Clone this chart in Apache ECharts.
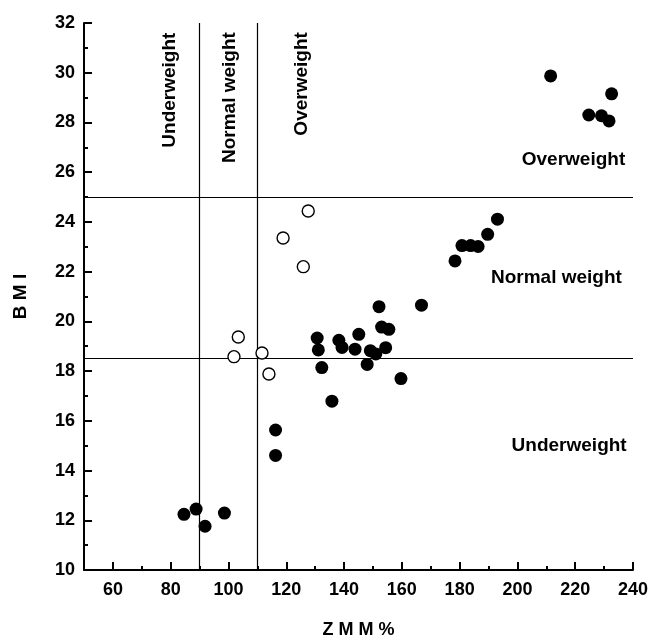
<!DOCTYPE html>
<html>
<head>
<meta charset="utf-8">
<script src="https://cdn.jsdelivr.net/npm/echarts@6/dist/echarts.min.js"></script>
<style>html,body{margin:0;padding:0;background:#fff;}#c{width:650px;height:639px;}</style>
</head>
<body>
<div id="c"></div>
<script>
// Filled circles: [ZMM %, BMI]
var filledPoints = [
  [84.6, 12.24], [88.8, 12.45], [91.9, 11.76], [98.6, 12.29],
  [116.3, 15.63], [116.3, 14.61],
  [130.7, 19.33], [131.1, 18.85], [132.3, 18.14], [135.8, 16.79],
  [138.2, 19.24], [139.3, 18.95], [143.8, 18.88], [145.1, 19.48],
  [148.0, 18.27], [149.1, 18.82], [151.0, 18.69], [152.1, 20.59],
  [153.0, 19.77], [155.5, 19.68], [154.4, 18.94], [159.7, 17.70],
  [166.8, 20.65],
  [178.4, 22.43], [180.8, 23.05], [183.8, 23.05], [186.4, 23.01],
  [189.7, 23.50], [193.1, 24.11],
  [211.5, 29.87], [224.7, 28.30], [229.1, 28.27], [231.7, 28.06], [232.6, 29.15]
];
// Open circles
var openPoints = [
  [101.9, 18.58], [103.4, 19.37], [111.6, 18.73], [114.0, 17.88],
  [118.9, 23.35], [125.9, 22.20], [127.6, 24.44]
];
// Threshold lines
var zmmCutoffs = [90, 110];
var bmiCutoffs = [18.5, 25];
// Tick labels
var xTickLabels = [60, 80, 100, 120, 140, 160, 180, 200, 220, 240];
var xMinorTicks = [70, 90, 110, 130, 150, 170, 190, 210, 230];
var yTickLabels = [10, 12, 14, 16, 18, 20, 22, 24, 26, 28, 30, 32];
// Region annotations: [x, y, text]
var zmmRegionLabels = [
  [79.6, 29.3, 'Underweight'],
  [100.3, 29.0, 'Normal weight'],
  [125.5, 29.55, 'Overweight']
];
var bmiRegionLabels = [
  [219.4, 26.5, 'Overweight'],
  [213.5, 21.77, 'Normal weight'],
  [217.9, 15.0, 'Underweight']
];

var FONT = '"Liberation Sans", Arial, sans-serif';
var chart = echarts.init(document.getElementById('c'), null, {renderer: 'canvas'});

var markLineData = [];
zmmCutoffs.forEach(function (v) { markLineData.push({xAxis: v}); });
bmiCutoffs.forEach(function (v) { markLineData.push({yAxis: v}); });

function labelData(arr) {
  return arr.map(function (d) { return {value: [d[0], d[1]], name: d[2]}; });
}

chart.setOption({
  animation: false,
  backgroundColor: '#ffffff',
  grid: {left: 84, right: 17, top: 23, bottom: 69, containLabel: false, outerBoundsMode: 'none'},
  xAxis: [{
    type: 'value', min: 50, max: 240, position: 'bottom',
    name: 'Z M M %', nameLocation: 'middle', nameGap: 51,
    nameTextStyle: {fontFamily: FONT, fontWeight: 'bold', fontSize: 18, color: '#000'},
    axisLine: {show: true, onZero: false, lineStyle: {color: '#000', width: 2}},
    axisTick: {show: true, inside: true, length: 8, customValues: xTickLabels, lineStyle: {color: '#000', width: 2}},
    axisLabel: {customValues: xTickLabels, margin: 11, fontFamily: FONT, fontWeight: 'bold', fontSize: 18, color: '#000'},
    splitLine: {show: false}
  }, {
    type: 'value', min: 50, max: 240, position: 'bottom',
    axisLine: {show: false},
    axisTick: {show: true, inside: true, length: 4, customValues: xMinorTicks, lineStyle: {color: '#000', width: 2}},
    axisLabel: {show: false},
    splitLine: {show: false}
  }],
  yAxis: {
    type: 'value', min: 10, max: 32, interval: 2,
    name: 'B M I', nameLocation: 'middle', nameGap: 54, nameRotate: 90,
    nameTextStyle: {fontFamily: FONT, fontWeight: 'bold', fontSize: 19, color: '#000'},
    axisLine: {show: true, onZero: false, lineStyle: {color: '#000', width: 2}},
    axisTick: {show: true, inside: true, length: 8, lineStyle: {color: '#000', width: 2}},
    minorTick: {show: true, splitNumber: 2, length: 4, lineStyle: {color: '#000', width: 2}},
    axisLabel: {margin: 9, fontFamily: FONT, fontWeight: 'bold', fontSize: 18, color: '#000',
      formatter: function (v) { return yTickLabels.indexOf(v) >= 0 ? String(v) : ''; }},
    splitLine: {show: false}
  },
  series: [{
    type: 'scatter', xAxisIndex: 0, data: filledPoints,
    symbol: 'circle', symbolSize: 13,
    itemStyle: {color: '#000', opacity: 1},
    z: 5,
    markLine: {
      silent: true, symbol: 'none',
      label: {show: false},
      lineStyle: {color: '#000', width: 1.2, type: 'solid', opacity: 1},
      data: markLineData,
      z: 1
    }
  }, {
    type: 'scatter', xAxisIndex: 0, data: openPoints,
    symbol: 'circle', symbolSize: 12,
    itemStyle: {color: '#fff', borderColor: '#000', borderWidth: 1.4, opacity: 1},
    z: 5
  }, {
    type: 'scatter', xAxisIndex: 0, data: labelData(zmmRegionLabels),
    symbolSize: 0, silent: true, itemStyle: {opacity: 1},
    label: {show: true, position: 'inside', rotate: 90, formatter: '{b}',
      fontFamily: FONT, fontWeight: 'bold', fontSize: 19, color: '#000', opacity: 1}
  }, {
    type: 'scatter', xAxisIndex: 0, data: labelData(bmiRegionLabels),
    symbolSize: 0, silent: true, itemStyle: {opacity: 1},
    label: {show: true, position: 'inside', formatter: '{b}',
      fontFamily: FONT, fontWeight: 'bold', fontSize: 19, color: '#000', opacity: 1}
  }]
});
</script>
</body>
</html>
